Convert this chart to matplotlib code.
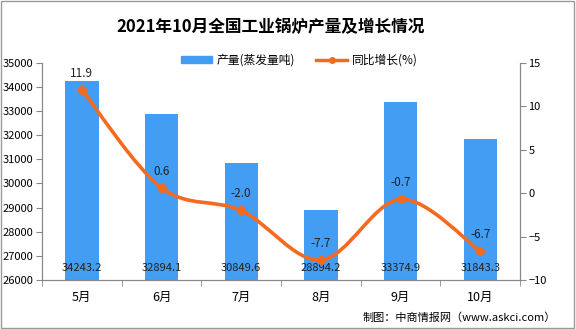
import matplotlib
matplotlib.use("Agg")
import matplotlib.pyplot as plt
from matplotlib.path import Path
from matplotlib.patches import PathPatch, Rectangle
from matplotlib.lines import Line2D
from matplotlib.patches import Patch

plt.rcParams['font.family'] = ['Noto Sans CJK SC', 'DejaVu Sans']

months = ["5月", "6月", "7月", "8月", "9月", "10月"]
output = [34243.2, 32894.1, 30849.6, 28894.2, 33374.9, 31843.3]
growth = [11.9, 0.6, -2.0, -7.7, -0.7, -6.7]

bar_color = "#439DF2"
line_color = "#F46A1F"

fig = plt.figure(figsize=(5.76, 3.29), dpi=100)
ax = fig.add_axes([0.073, 0.149, 0.830, 0.660])
ax2 = ax.twinx()

x = list(range(len(months)))
ax.bar(x, output, width=0.42, color=bar_color, zorder=2)
ax.set_ylim(26000, 35000)
ax.set_yticks(range(26000, 35001, 1000))
ax.set_xlim(-0.5, len(months) - 0.5)
ax.set_xticks(x)
ax.set_xticklabels(months, fontsize=9)
ax.set_xticks([i - 0.5 for i in range(len(months) + 1)], minor=True)
ax.tick_params(axis="x", which="major", length=0, pad=8)
ax.tick_params(axis="x", which="minor", length=4, color="#888888")
ax.tick_params(axis="y", labelsize=8, length=4, color="#888888", pad=2)

for i, v in enumerate(output):
    ax.text(i, 0.055, f"{v:.1f}", transform=ax.get_xaxis_transform(),
            ha="center", va="center", fontsize=8, color="#222222", zorder=4)

# smoothed line (Catmull-Rom style through the data points)
pts = list(zip(x, growth))
verts = [pts[0]]
codes = [Path.MOVETO]
for i in range(len(pts) - 1):
    p0 = pts[i - 1] if i > 0 else pts[i]
    p1 = pts[i]
    p2 = pts[i + 1]
    p3 = pts[i + 2] if i + 2 < len(pts) else pts[i + 1]
    c1 = (p1[0] + (p2[0] - p0[0]) / 6, p1[1] + (p2[1] - p0[1]) / 6)
    c2 = (p2[0] - (p3[0] - p1[0]) / 6, p2[1] - (p3[1] - p1[1]) / 6)
    verts += [c1, c2, p2]
    codes += [Path.CURVE4] * 3
ax2.add_patch(PathPatch(Path(verts, codes), facecolor="none", edgecolor=line_color,
                        lw=2.6, zorder=3, capstyle="round"))
ax2.plot(x, growth, "o", color=line_color, ms=5.5, zorder=4)
for i, g in enumerate(growth):
    ax2.annotate(f"{g:.1f}", (i, g), xytext=(0, 12), textcoords="offset points",
                 ha="center", va="center", fontsize=8.5, color="#222222")
ax2.set_ylim(-10, 15)
ax2.set_yticks(range(-10, 16, 5))
ax2.tick_params(axis="y", labelsize=8, length=4, color="#888888", pad=2)

for a in (ax, ax2):
    a.spines["top"].set_visible(False)
    for s in ("left", "right", "bottom"):
        a.spines[s].set_color("#888888")
        a.spines[s].set_linewidth(0.8)

handles = [Patch(color=bar_color, label="产量(蒸发量吨)"),
           Line2D([0], [0], color=line_color, lw=2.5, marker="o", ms=4, label="同比增长(%)")]
fig.legend(handles=handles, loc="center", bbox_to_anchor=(0.52, 0.818), ncol=2,
           frameon=False, fontsize=8.5, handlelength=2.6, handleheight=0.5,
           columnspacing=1.8, handletextpad=0.4)

fig.text(0.47, 0.918, "2021年10月全国工业锅炉产量及增长情况", ha="center", va="center",
         fontsize=12, fontweight="bold")
fig.text(0.965, 0.033, "制图：中商情报网（www.askci.com）", ha="right", va="center",
         fontsize=8)

fig.patches.append(Rectangle((0.002, 0.003), 0.995, 0.994, transform=fig.transFigure,
                             fill=False, edgecolor="#9A9A9A", lw=1))

fig.savefig("out.png", dpi=100)
